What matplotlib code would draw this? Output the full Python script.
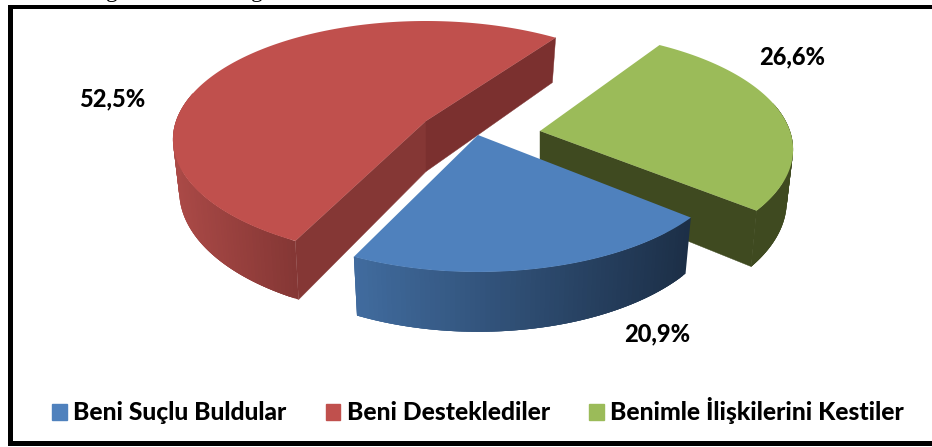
#!/usr/bin/env python3
# -*- coding: utf-8 -*-
# 3D looking exploded pie, the slices are projected by hand since
# matplotlib has no 3D pie
import numpy as np
import matplotlib
matplotlib.use('Agg')
import matplotlib.pyplot as plt
from matplotlib.patches import Patch, Rectangle
from matplotlib.colors import to_rgb

categories = ['Beni Suçlu Buldular', 'Beni Desteklediler', 'Benimle İlişkilerini Kestiler']
values = [20.9, 52.5, 26.6]
value_labels = ['20,9%', '52,5%', '26,6%']
top_colors = ['#4f81bd', '#c0504d', '#9bbb59']
wall_left = ['#416c9f', '#ab4a47', '#3f4a20']
wall_right = ['#1c2f47', '#853735', '#3f4a20']

# pie geometry in pixels
apex = [(478, 135), (426, 121), (540, 131)]
nudge = [0.0, 1.5, -1.5]
label_pos = [(657, 334), (112, 99), (792, 57)]
start_angle = 40.0
A, B, K = 250.0, 115.6, 0.156
DEPTH = 50.5
SHRINK = 0.975


def project(theta, c, bottom=False):
    t = np.radians(theta)
    u, v = np.cos(t), np.sin(t)
    d = 1 - K * v
    x = A * u / d
    y = B * v / d
    if bottom:
        return np.column_stack([c[0] + SHRINK * x, c[1] + y + DEPTH / d])
    return np.column_stack([c[0] + x, c[1] + y])


fig = plt.figure(figsize=(9.32, 4.47), dpi=100)
ax = fig.add_axes([0, 0, 1, 1])
ax.set_xlim(0, 932)
ax.set_ylim(447, 0)
ax.axis('off')

# slice angles from the values
spans = np.array(values) / np.sum(values) * 360
starts = start_angle + np.concatenate([[0], np.cumsum(spans)[:-1]])

# back to front: red, green, blue
for z, i in enumerate([1, 2, 0]):
    c = apex[i]
    a0, a1 = starts[i] + nudge[i], starts[i] + nudge[i] + spans[i]
    th = np.linspace(a0, a1, int(spans[i]) + 2)
    zo = z + 1

    # outer wall, only the part facing us. quads overlap to hide the seams
    vis = th[np.sin(np.radians(th)) > -0.25]
    top = project(vis, c)
    bot = project(vis, c, True)
    x0, x1 = top[:, 0].min(), top[:, 0].max()
    c0, c1 = np.array(to_rgb(wall_left[i])), np.array(to_rgb(wall_right[i]))
    for j in range(len(vis) - 1):
        k = min(j + 3, len(vis) - 1)
        f = (top[j, 0] - x0) / (x1 - x0)
        ax.fill([top[j, 0], top[k, 0], bot[k, 0], bot[j, 0]],
                [top[j, 1], top[k, 1], bot[k, 1], bot[j, 1]],
                color=c0 + (c1 - c0) * f, lw=0, zorder=zo)

    # cut faces that look towards us
    faces = {1: [(a0, '#853735'), (a1, '#7b302f')], 2: [(a1, '#3f4a20')]}
    for ang, col in faces.get(i, []):
        pt = project(np.array([ang]), c)[0]
        pb = project(np.array([ang]), c, True)[0]
        ax.fill([c[0], pt[0], pb[0], c[0]], [c[1], pt[1], pb[1], c[1] + DEPTH],
                color=col, lw=0.3, zorder=zo)

    # top face
    pts = project(th, c)
    ax.fill(np.r_[c[0], pts[:, 0]], np.r_[c[1], pts[:, 1]], color=top_colors[i], lw=0, zorder=zo + 0.5)

for i in range(3):
    ax.text(label_pos[i][0], label_pos[i][1], value_labels[i], family='Lato', weight='black',
            fontsize=17, ha='center', va='center', color='black', zorder=10)

# legend
handles = [Patch(color=top_colors[i], label=categories[i]) for i in range(3)]
ax.legend(handles=handles, ncols=3, loc='center left', bbox_to_anchor=(52 / 932, 1 - 411 / 447),
          frameon=False, handlelength=0.6, handleheight=0.6, handletextpad=0.26, columnspacing=1.6,
          borderpad=0, borderaxespad=0, prop={'family': 'Lato', 'weight': 'black', 'size': 17.7})

# frame round the picture
for r in [(8, 5, 5, 441), (8, 5, 924, 3.5), (8, 441, 924, 5)]:
    ax.add_patch(Rectangle((r[0], r[1]), r[2], r[3], fc='black', ec='none', zorder=20))

# descenders of the document line cut off above the chart
for x in (112, 257):
    ax.text(x, -9, 'g', family='Liberation Serif', fontsize=17, ha='center', va='center', color='black')

fig.savefig('out.png', dpi=100)
